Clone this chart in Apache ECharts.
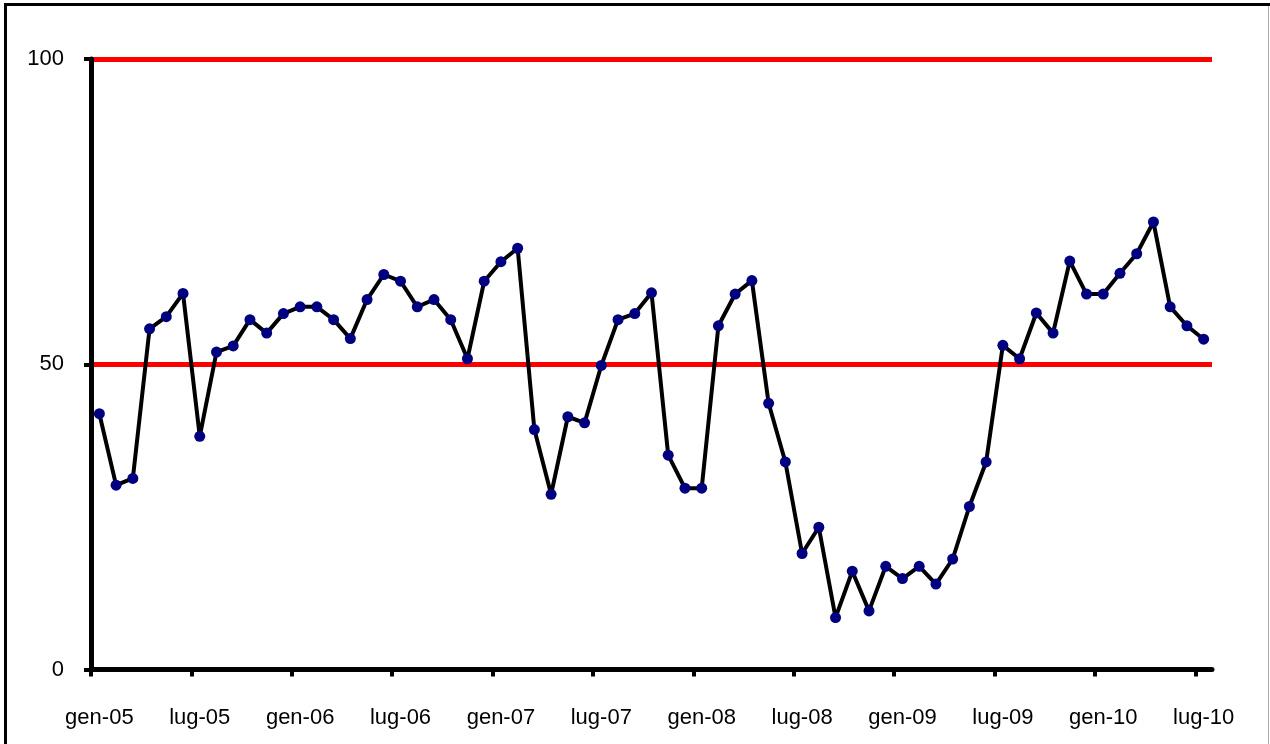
<!DOCTYPE html>
<html>
<head>
<meta charset="utf-8">
<script src="https://cdn.jsdelivr.net/npm/echarts@6/dist/echarts.min.js"></script>
<style>
html,body{margin:0;padding:0;background:#fff;}
#c{width:1270px;height:744px;}
</style>
</head>
<body>
<div id="c"></div>
<script>
var monthNames = ['gen','feb','mar','apr','mag','giu','lug','ago','set','ott','nov','dic'];
var years = ['05','06','07','08','09','10'];
var categories = [];
for (var yi = 0; yi < years.length; yi++) {
  for (var mi = 0; mi < 12; mi++) {
    if (yi === 5 && mi > 6) break;
    categories.push(monthNames[mi] + '-' + years[yi]);
  }
}
var values = [
  41.9, 30.2, 31.3, 55.8, 57.8, 61.6, 38.2, 52.0, 53.0, 57.3, 55.1, 58.3,
  59.4, 59.4, 57.3, 54.2, 60.6, 64.7, 63.6, 59.4, 60.6, 57.3, 50.9, 63.6,
  66.8, 69.0, 39.3, 28.7, 41.4, 40.4, 49.8, 57.3, 58.3, 61.7, 35.1, 29.7,
  29.7, 56.3, 61.5, 63.7, 43.6, 34.0, 19.0, 23.3, 8.5, 16.1, 9.6, 16.9,
  14.9, 16.9, 14.0, 18.1, 26.7, 34.0, 53.1, 50.9, 58.4, 55.1, 66.9, 61.5,
  61.5, 64.9, 68.1, 73.3, 59.4, 56.3, 54.1
];
var yTicks = [0, 50, 100];
var labelIdx = [0, 6, 12, 18, 24, 30, 36, 42, 48, 54, 60, 66];

var gridLeft = 91, gridRight = 58;
var plotW = 1270 - gridLeft - gridRight;
var slot = plotW / categories.length;
var tickSpan = labelIdx[labelIdx.length - 1];

var chart = echarts.init(document.getElementById('c'));
chart.setOption({
  animation: false,
  backgroundColor: '#ffffff',
  grid: [
    {left: gridLeft, top: 59, right: gridRight, bottom: 74.5, containLabel: false},
    {left: gridLeft, top: 59, right: 1270 - gridLeft - slot * tickSpan, bottom: 74.5, containLabel: false}
  ],
  xAxis: [{
    type: 'category',
    gridIndex: 0,
    data: categories,
    boundaryGap: true,
    axisLine: {show: true, lineStyle: {color: '#000', width: 5}},
    axisTick: {show: false},
    axisLabel: {customValues: labelIdx, margin: 37, color: '#000', fontSize: 22, fontFamily: 'Liberation Sans, Arial, sans-serif'},
    splitLine: {show: false}
  }, {
    type: 'value',
    gridIndex: 1,
    min: 0,
    max: tickSpan,
    interval: 6,
    axisLine: {show: false},
    axisTick: {show: true, length: 7, lineStyle: {color: '#000', width: 4}},
    axisLabel: {show: false},
    splitLine: {show: false}
  }],
  yAxis: [{
    type: 'value',
    gridIndex: 0,
    min: yTicks[0],
    max: yTicks[yTicks.length - 1],
    interval: 50,
    axisLine: {show: true, lineStyle: {color: '#000', width: 5}},
    axisTick: {show: true, length: 7, lineStyle: {color: '#000', width: 4}},
    axisLabel: {margin: 27, color: '#000', fontSize: 22, fontFamily: 'Liberation Sans, Arial, sans-serif'},
    splitLine: {show: true, lineStyle: {color: '#ff0000', width: 5}}
  }, {
    type: 'value',
    gridIndex: 1,
    min: 0, max: 100,
    show: false
  }],
  series: [{
    type: 'line',
    xAxisIndex: 0,
    yAxisIndex: 0,
    data: values,
    symbol: 'circle',
    symbolSize: 11,
    showAllSymbol: true,
    lineStyle: {color: '#000', width: 4},
    itemStyle: {color: '#000080', borderWidth: 0},
    z: 5
  }],
  graphic: [
    {type: 'line', shape: {x1: 4, y1: 4.5, x2: 1270, y2: 4.5}, style: {stroke: '#000', lineWidth: 3}},
    {type: 'line', shape: {x1: 5.5, y1: 3, x2: 5.5, y2: 744}, style: {stroke: '#000', lineWidth: 3}},
    {type: 'line', shape: {x1: 1268.5, y1: 6, x2: 1268.5, y2: 744}, style: {stroke: '#aaaaaa', lineWidth: 1}}
  ]
});
</script>
</body>
</html>
